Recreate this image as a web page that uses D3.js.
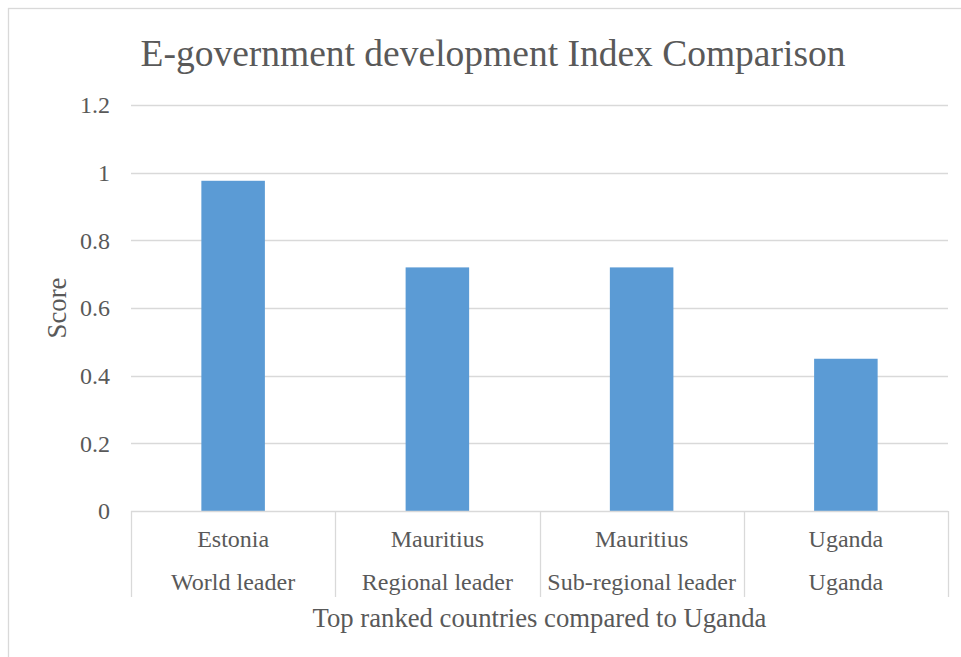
<!DOCTYPE html>
<html>
<head>
<meta charset="utf-8">
<script src="https://cdn.jsdelivr.net/npm/d3@7/dist/d3.min.js"></script>
<style>
  html, body { margin: 0; padding: 0; background: #fff; }
  svg text { font-family: "Liberation Serif", Tinos, "Times New Roman", Times, "Nimbus Roman", "DejaVu Serif", serif; }
</style>
</head>
<body>
<svg id="chart" width="961" height="657"></svg>
<script>
const countries = ["Estonia", "Mauritius", "Mauritius", "Uganda"];
const roles = ["World leader", "Regional leader", "Sub-regional leader", "Uganda"];
const scores = [0.976, 0.72, 0.72, 0.45];
const yTicks = [0, 0.2, 0.4, 0.6, 0.8, 1, 1.2];
const titleText = "E-government development Index Comparison";
const xTitle = "Top ranked countries compared to Uganda";
const yTitle = "Score";

(function () {
const svg = d3.select("#chart");
const textColor = "#595959";
const gridColor = "#d9d9d9";

// chart border (left + top visible)
svg.append("rect")
  .attr("x", 8.5).attr("y", 8.5)
  .attr("width", 1200).attr("height", 1200)
  .attr("fill", "none").attr("stroke", gridColor).attr("stroke-width", 1.3);

const pLeft = 131, pRight = 948, pTop = 105, pBottom = 511;
const idx = d3.range(countries.length);

const x = d3.scaleBand().domain(idx).range([pLeft, pRight]).padding(0);
const y = d3.scaleLinear().domain([0, 1.2]).range([pBottom, pTop]);

// gridlines
svg.append("g").selectAll("line")
  .data(yTicks.filter(d => d > 0))
  .join("line")
  .attr("x1", pLeft).attr("x2", pRight)
  .attr("y1", d => Math.round(y(d)) + 0.5).attr("y2", d => Math.round(y(d)) + 0.5)
  .attr("stroke", gridColor).attr("stroke-width", 1.3);

// y tick labels
svg.append("g").selectAll("text")
  .data(yTicks)
  .join("text")
  .attr("x", 110).attr("y", d => y(d))
  .attr("dy", "0.35em")
  .attr("text-anchor", "end")
  .attr("font-size", 24)
  .attr("fill", textColor)
  .text(d => d3.format("")(d));

// bars
const barFrac = 0.311;
svg.append("g").selectAll("rect")
  .data(idx)
  .join("rect")
  .attr("x", i => x(i) + x.bandwidth() * (1 - barFrac) / 2)
  .attr("width", x.bandwidth() * barFrac)
  .attr("y", i => y(scores[i]))
  .attr("height", i => y(0) - y(scores[i]))
  .attr("fill", "#5b9bd5");

// x axis line
svg.append("line")
  .attr("x1", pLeft).attr("x2", pRight)
  .attr("y1", pBottom + 0.5).attr("y2", pBottom + 0.5)
  .attr("stroke", gridColor).attr("stroke-width", 1.3);

// category separators
const seps = idx.map(i => x(i)).concat([x(idx[idx.length - 1]) + x.bandwidth()]);
svg.append("g").selectAll("line")
  .data(seps)
  .join("line")
  .attr("x1", d => Math.round(d) + 0.5).attr("x2", d => Math.round(d) + 0.5)
  .attr("y1", pBottom).attr("y2", 597)
  .attr("stroke", gridColor).attr("stroke-width", 1.3);

// category labels
const catG = svg.append("g").attr("font-size", 24).attr("fill", textColor).attr("text-anchor", "middle");
catG.selectAll("text.c1")
  .data(idx).join("text").attr("class", "c1")
  .attr("x", i => x(i) + x.bandwidth() / 2).attr("y", 547)
  .text(i => countries[i]);
catG.selectAll("text.c2")
  .data(idx).join("text").attr("class", "c2")
  .attr("x", i => x(i) + x.bandwidth() / 2).attr("y", 590)
  .text(i => roles[i]);

// title
svg.append("text")
  .attr("x", 493).attr("y", 66)
  .attr("text-anchor", "middle")
  .attr("font-size", 37.5)
  .attr("fill", textColor)
  .text(titleText);

// x axis title
svg.append("text")
  .attr("x", (pLeft + pRight) / 2).attr("y", 627)
  .attr("text-anchor", "middle")
  .attr("font-size", 26.7)
  .attr("fill", textColor)
  .text(xTitle);

// y axis title
svg.append("text")
  .attr("transform", `translate(66, ${(pTop + pBottom) / 2}) rotate(-90)`)
  .attr("text-anchor", "middle")
  .attr("font-size", 26.7)
  .attr("fill", textColor)
  .text(yTitle);
})();
</script>
</body>
</html>
